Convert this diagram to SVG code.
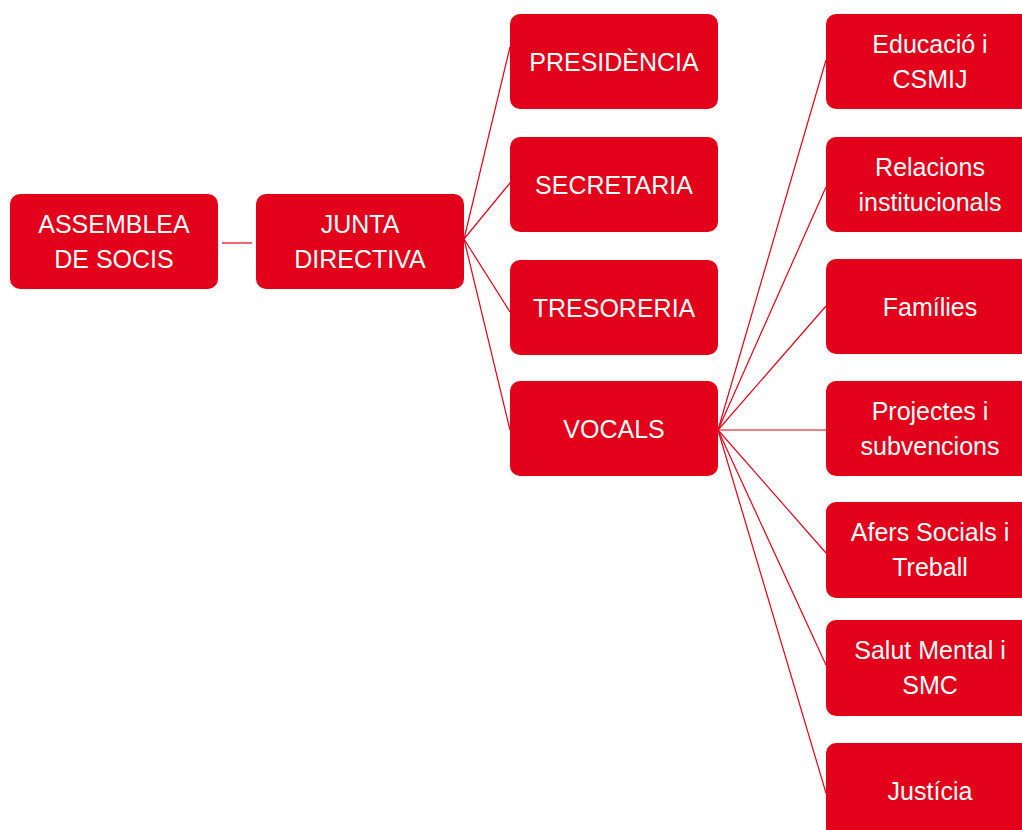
<svg xmlns="http://www.w3.org/2000/svg" width="1022" height="830" viewBox="0 0 1022 830">
<style>
.box{fill:#E2001A}
.t{fill:#ffffff;font-family:"Liberation Sans",Arial,sans-serif;font-size:25px;text-anchor:middle}
.c line{stroke:#E2001A;stroke-width:1.2;fill:none}
</style>
<rect width="1022" height="830" fill="#ffffff"/>
<g id="connectors" class="c">
<line x1="222" y1="243" x2="252" y2="243"/>
<line x1="464" y1="239" x2="510" y2="47"/>
<line x1="464" y1="239" x2="510" y2="183"/>
<line x1="464" y1="239" x2="510" y2="312"/>
<line x1="464" y1="239" x2="510" y2="430"/>
<line x1="718" y1="430" x2="826" y2="60"/>
<line x1="718" y1="430" x2="826" y2="187"/>
<line x1="718" y1="430" x2="826" y2="306"/>
<line x1="718" y1="430" x2="826" y2="430"/>
<line x1="718" y1="430" x2="826" y2="553"/>
<line x1="718" y1="430" x2="826" y2="665"/>
<line x1="718" y1="430" x2="826" y2="793"/>
</g>
<g id="assemblea"><rect class="box" x="10" y="194" width="208" height="95" rx="10"/><text class="t" x="114" y="233">ASSEMBLEA</text><text class="t" x="114" y="268">DE SOCIS</text></g>
<g id="junta"><rect class="box" x="256" y="194" width="208" height="95" rx="10"/><text class="t" x="360" y="233">JUNTA</text><text class="t" x="360" y="268">DIRECTIVA</text></g>
<g id="presidencia"><rect class="box" x="510" y="14" width="208" height="95" rx="10"/><text class="t" x="614" y="71">PRESIDÈNCIA</text></g>
<g id="secretaria"><rect class="box" x="510" y="137" width="208" height="95" rx="10"/><text class="t" x="614" y="194">SECRETARIA</text></g>
<g id="tresoreria"><rect class="box" x="510" y="260" width="208" height="95" rx="10"/><text class="t" x="614" y="317">TRESORERIA</text></g>
<g id="vocals"><rect class="box" x="510" y="381" width="208" height="95" rx="10"/><text class="t" x="614" y="438">VOCALS</text></g>
<g id="educacio"><rect class="box" x="826" y="14" width="208" height="95" rx="10"/><text class="t" x="930" y="53">Educació i</text><text class="t" x="930" y="88">CSMIJ</text></g>
<g id="relacions"><rect class="box" x="826" y="137" width="208" height="95" rx="10"/><text class="t" x="930" y="176">Relacions</text><text class="t" x="930" y="211">institucionals</text></g>
<g id="families"><rect class="box" x="826" y="259" width="208" height="95" rx="10"/><text class="t" x="930" y="316">Famílies</text></g>
<g id="projectes"><rect class="box" x="826" y="381" width="208" height="95" rx="10"/><text class="t" x="930" y="420">Projectes i</text><text class="t" x="930" y="455">subvencions</text></g>
<g id="afers"><rect class="box" x="826" y="502" width="208" height="96" rx="10"/><text class="t" x="930" y="541">Afers Socials i</text><text class="t" x="930" y="576">Treball</text></g>
<g id="salut"><rect class="box" x="826" y="620" width="208" height="96" rx="10"/><text class="t" x="930" y="659">Salut Mental i</text><text class="t" x="930" y="694">SMC</text></g>
<g id="justicia"><rect class="box" x="826" y="743" width="208" height="95" rx="10"/><text class="t" x="930" y="800">Justícia</text></g>
</svg>
